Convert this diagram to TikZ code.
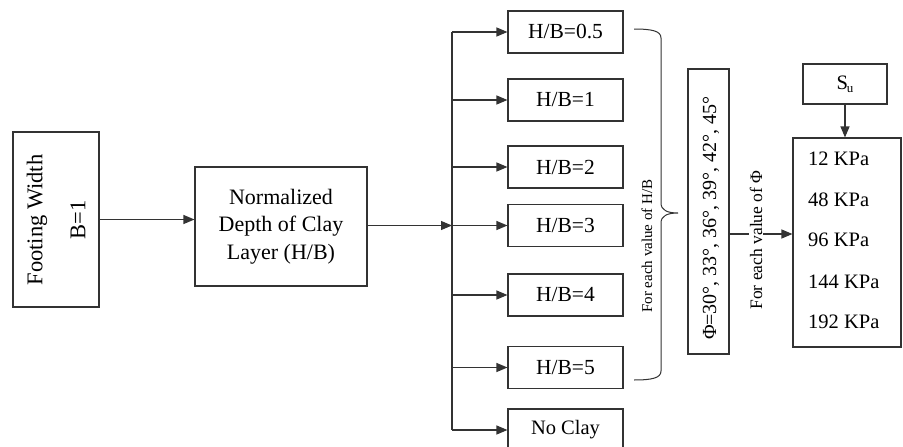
\documentclass[tikz,border=0pt]{standalone}
\usepackage{fontspec}
\setmainfont{Liberation Serif}
\usetikzlibrary{arrows.meta}
\begin{document}
\begin{tikzpicture}[x=1pt,y=-1pt,
  every node/.style={text=black},
  box/.style={draw=black!80, line width=1.1pt, rectangle, inner sep=0pt, fill=none},
  hb/.style={box, minimum width=115pt, minimum height=42pt, font=\fontsize{21.5}{24}\selectfont},
  link/.style={draw=black!80, line width=1.1pt},
  arr/.style={link, -{Triangle[length=11pt,width=9pt]}},
  kpa/.style={anchor=west, inner sep=0pt, font=\fontsize{20.5}{24}\selectfont}
]
\useasboundingbox (0,0) rectangle (903,447);
\clip (0,0) rectangle (903,447);
\fill[white] (0,0) rectangle (903,447);

% left boxes
\node[box, minimum width=86pt, minimum height=175pt] (foot) at (56,219.5) {};
\node[rotate=90, align=center, inner sep=0pt, font=\fontsize{22.5}{43}\selectfont] (foottext) at (56,220) {Footing Width\\B=1};
\node[box, minimum width=172pt, minimum height=119pt, align=center,
      font=\fontsize{22}{27.5}\selectfont] (norm) at (281,226.5) {Normalized\\Depth of Clay\\Layer (H/B)};

% H/B boxes
\node[hb] (h1) at (565.5,32) {H/B=0.5};
\node[hb] (h2) at (565.5,100) {H/B=1};
\node[hb] (h3) at (565.5,167) {H/B=2};
\node[hb] (h4) at (565.5,225.5) {H/B=3};
\node[hb] (h5) at (565.5,295) {H/B=4};
\node[hb] (h6) at (565.5,367.5) {H/B=5};
\node[hb, font=\fontsize{20.5}{24}\selectfont] (h7) at (565.5,430) {No Clay};

\coordinate (split) at (452,225.5);
\coordinate (top) at (452,32);
\coordinate (bot) at (452,430);

\draw[arr] (foot.east) -- (foot.east -| norm.west);
\draw[arr] (norm.east |- split) -- (split);
\draw[link] (top) -- (bot);
\foreach \n in {h1,h2,h3,h4,h5,h6,h7}{
  \draw[arr] (\n.west -| split) -- (\n.west);
}

% brace
\draw[link, line width=1pt] (634,29) .. controls (652,29) and (661,31) .. (661,38)
  -- (661,203) .. controls (661,210) and (667,213) .. (678,213)
  .. controls (667,213) and (661,216) .. (661,223)
  -- (661,371) .. controls (661,378) and (652,380) .. (634,380);
\node[rotate=90, inner sep=0pt, font=\fontsize{15}{18}\selectfont] (brlabel) at (647,246) {For each value of H/B};

% phi box
\node[box, minimum width=41pt, minimum height=285pt] (phi) at (708.5,211.5) {};
\node[rotate=90, inner sep=0pt, font=\fontsize{20}{24}\selectfont] (phitext) at (711,218) {Φ=30°, 33°, 36°, 39°, 42°, 45°};

% KPa box
\node[box, minimum width=108pt, minimum height=209pt] (kbox) at (847,242.5) {};
\coordinate (phiout) at (729,234);
\draw[arr] (phiout) -- (phiout -| kbox.west);
\node[rotate=90, inner sep=1pt, fill=white, font=\fontsize{17.5}{20}\selectfont] (philabel) at (756,240) {For each value of Φ};

\node[kpa] (k1) at (808,159) {12 KPa};
\node[kpa] (k2) at (808,200) {48 KPa};
\node[kpa] (k3) at (808,240) {96 KPa};
\node[kpa] (k4) at (808,282) {144 KPa};
\node[kpa] (k5) at (808,322) {192 KPa};

% Su
\node[box, minimum width=84pt, minimum height=40pt, font=\fontsize{20.5}{24}\selectfont] (su) at (845,84) {S\kern-1pt\raisebox{-3pt}{\fontsize{13}{14}\selectfont u}};
\draw[arr] (su.south) -- (su.south |- kbox.north);
\end{tikzpicture}
\end{document}
